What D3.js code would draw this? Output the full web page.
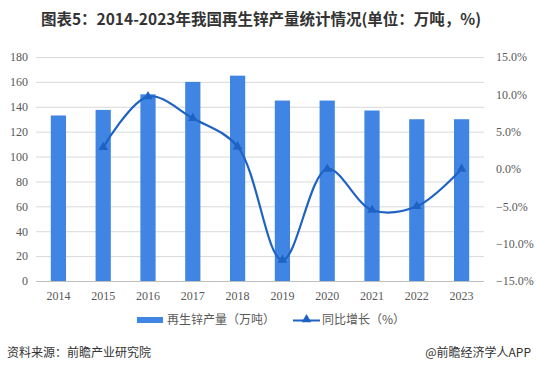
<!DOCTYPE html>
<html>
<head>
<meta charset="utf-8">
<script src="https://cdn.jsdelivr.net/npm/d3@7"></script>
<style>
  body { margin: 0; background: #fff; }
  svg { display: block; }
</style>
</head>
<body>
<div id="chart"></div>
<script>
const years = ["2014", "2015", "2016", "2017", "2018", "2019", "2020", "2021", "2022", "2023"]
const output = [133, 137.5, 150, 160, 165, 145, 145, 137, 130, 130]
const growth = [null, 2.9, 9.7, 6.8, 3.0, -12.2, 0.0, -5.5, -5.0, 0.0]
const leftTicks = [0, 20, 40, 60, 80, 100, 120, 140, 160, 180]
const rightTicks = [-15, -10, -5, 0, 5, 10, 15]

const width = 537
const height = 378
const margin = {top: 57, bottom: 97, left: 36, right: 53}

const svg = d3.select("#chart")
    .append("svg")
    .attr("width", width)
    .attr("height", height)

const plot = svg.append("g")
    .attr("transform", `translate(${margin.left}, ${margin.top})`)

const w = width - margin.left - margin.right
const h = height - margin.top - margin.bottom

const xScale = d3.scaleBand()
    .domain(years)
    .range([0, w])
    .paddingInner(0.66)
    .paddingOuter(0.33)

const xPoint = d => xScale(d) + xScale.bandwidth() / 2

const yLeft = d3.scaleLinear().domain([0, 180]).range([h, 0])
const yRight = d3.scaleLinear().domain([-15, 15]).range([h, 0])

const axisFont = "'Liberation Serif', 'Times New Roman', serif"

// gridlines
plot.append("g")
    .selectAll("line")
    .data(leftTicks)
    .join("line")
    .attr("x1", 0)
    .attr("x2", w)
    .attr("y1", d => yLeft(d) + 0.5)
    .attr("y2", d => yLeft(d) + 0.5)
    .attr("stroke", d => d === 0 ? "#bfbfbf" : "#d9d9d9")
    .attr("stroke-width", 1)

// left axis
const yAxisL = d3.axisLeft(yLeft).tickValues(leftTicks).tickSize(0).tickPadding(8)
plot.append("g")
    .call(yAxisL)
    .call(g => g.select(".domain").remove())
    .selectAll("text")
    .attr("font-family", axisFont)
    .attr("font-size", 12)
    .attr("fill", "#595959")

// right axis
const yAxisR = d3.axisRight(yRight).tickValues(rightTicks).tickSize(0).tickPadding(12)
    .tickFormat(d => d3.format(".1f")(d) + "%")
plot.append("g")
    .attr("transform", `translate(${w}, 0)`)
    .call(yAxisR)
    .call(g => g.select(".domain").remove())
    .selectAll("text")
    .attr("font-family", axisFont)
    .attr("font-size", 12)
    .attr("fill", "#595959")

// x axis
const xAxis = d3.axisBottom(xScale).tickSize(0).tickPadding(10)
plot.append("g")
    .attr("transform", `translate(0, ${h})`)
    .call(xAxis)
    .call(g => g.select(".domain").remove())
    .selectAll("text")
    .attr("font-family", axisFont)
    .attr("font-size", 12)
    .attr("fill", "#595959")

// bars
plot.append("g")
    .selectAll("rect")
    .data(output)
    .join("rect")
    .attr("x", (d, i) => xScale(years[i]))
    .attr("y", d => yLeft(d))
    .attr("width", xScale.bandwidth())
    .attr("height", d => h - yLeft(d))
    .attr("fill", "#4085e3")

// growth line
const lineData = years.map((y, i) => ({year: y, value: growth[i]})).filter(d => d.value !== null)
const lineColor = "#1e63c4"

const line = d3.line()
    .x(d => xPoint(d.year))
    .y(d => yRight(d.value))
    .curve(d3.curveCatmullRom.alpha(0.5))

plot.append("path")
    .datum(lineData)
    .attr("fill", "none")
    .attr("stroke", lineColor)
    .attr("stroke-width", 2.2)
    .attr("d", line)

const tri = d3.symbol().type(d3.symbolTriangle).size(40)
plot.append("g")
    .selectAll("path")
    .data(lineData)
    .join("path")
    .attr("transform", d => `translate(${xPoint(d.year)}, ${yRight(d.value)})`)
    .attr("d", tri)
    .attr("fill", lineColor)

// title
svg.append("text")
    .attr("x", 261)
    .attr("y", 25)
    .attr("text-anchor", "middle")
    .attr("font-family", "'Noto Sans CJK SC', 'Liberation Sans', sans-serif")
    .attr("font-weight", "bold")
    .attr("font-size", 15.5)
    .attr("fill", "#333")
    .text("图表5：2014-2023年我国再生锌产量统计情况(单位：万吨，%)")

// legend
const legend = svg.append("g")
    .attr("font-family", "'Noto Sans CJK SC', sans-serif")
    .attr("font-size", 12)
    .attr("fill", "#595959")

legend.append("rect")
    .attr("x", 137)
    .attr("y", 317)
    .attr("width", 26)
    .attr("height", 6)
    .attr("fill", "#4085e3")

legend.append("text")
    .attr("x", 167)
    .attr("y", 324)
    .text("再生锌产量（万吨）")

legend.append("line")
    .attr("x1", 293)
    .attr("x2", 320)
    .attr("y1", 320.5)
    .attr("y2", 320.5)
    .attr("stroke", lineColor)
    .attr("stroke-width", 2)

legend.append("path")
    .attr("transform", "translate(306.5, 319.5)")
    .attr("d", tri)
    .attr("fill", lineColor)

legend.append("text")
    .attr("x", 322)
    .attr("y", 324)
    .text("同比增长（%）")

// footer
svg.append("text")
    .attr("x", 7)
    .attr("y", 357)
    .attr("font-family", "'Noto Sans CJK SC', sans-serif")
    .attr("font-size", 12)
    .attr("fill", "#333")
    .text("资料来源：前瞻产业研究院")

svg.append("text")
    .attr("x", 531)
    .attr("y", 357)
    .attr("text-anchor", "end")
    .attr("font-family", "'Noto Sans CJK SC', sans-serif")
    .attr("font-size", 12)
    .attr("fill", "#333")
    .text("@前瞻经济学人APP")
</script>
</body>
</html>
